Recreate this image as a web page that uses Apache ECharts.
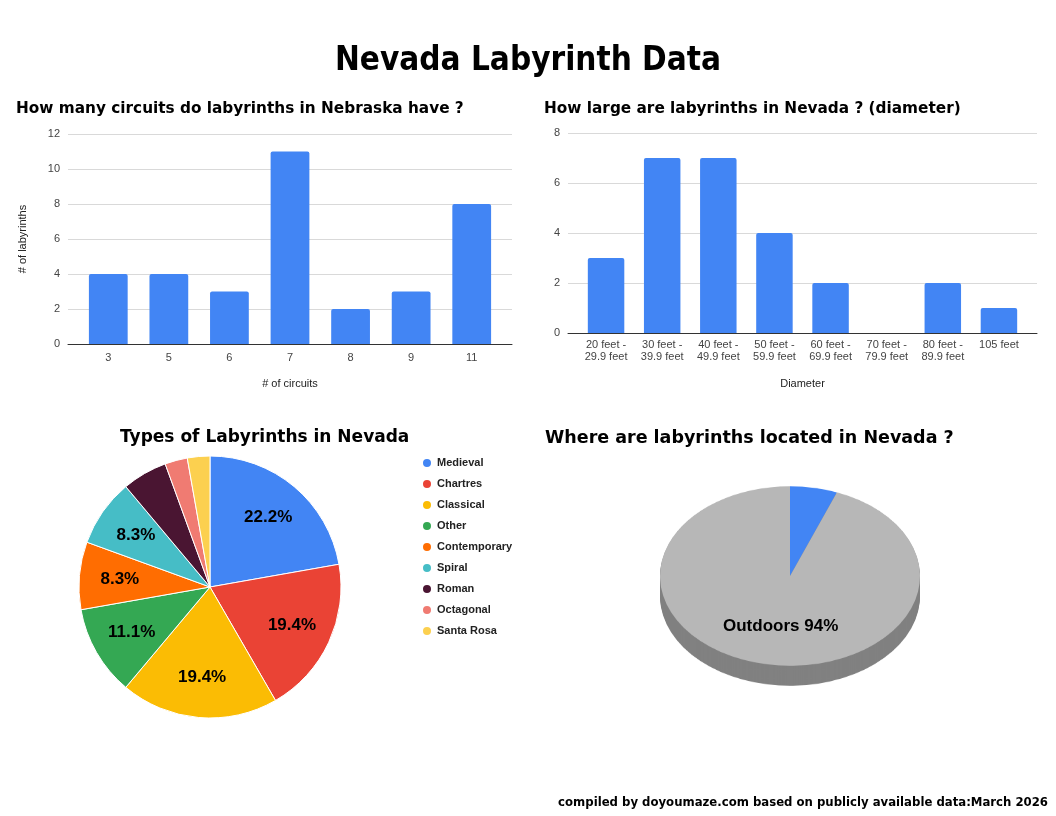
<!DOCTYPE html>
<html lang="en">
<head>
    <meta charset="UTF-8">
    <title>Nevada Labyrinth Data</title>
    <script src="https://cdn.jsdelivr.net/npm/echarts@6/dist/echarts.min.js"></script>
    <style>
        body { margin: 0; background: #fff; }
        #pie3d { position: absolute; left: 640px; top: 426px; width: 300px; height: 330px;
                 transform: scaleY(0.69); transform-origin: 150px 150px; }
        #chartmain { position: absolute; left: 0; top: 0; width: 1056px; height: 816px; }
    </style>
</head>
<body>
<div id="pie3d"></div>
<div id="chartmain"></div>
<script type="text/javascript">
    // circuits chart
    var circuitCats = ['3', '5', '6', '7', '8', '9', '11'];
    var circuitCounts = [4, 4, 3, 11, 2, 3, 8];
    var circuitMax = 12;

    // diameter chart
    var diameterCats = ['20 feet -\n29.9 feet', '30 feet -\n39.9 feet', '40 feet -\n49.9 feet',
        '50 feet -\n59.9 feet', '60 feet -\n69.9 feet', '70 feet -\n79.9 feet', '80 feet -\n89.9 feet', '105 feet'];
    var diameterCounts = [3, 7, 7, 4, 2, 0, 2, 1];
    var diameterMax = 8;

    // types pie
    var typeNames = ['Medieval', 'Chartres', 'Classical', 'Other', 'Contemporary', 'Spiral', 'Roman', 'Octagonal', 'Santa Rosa'];
    var typeCounts = [8, 7, 7, 4, 3, 3, 2, 1, 1];
    var typeColors = ['#4285F4', '#EA4335', '#FBBC04', '#34A853', '#FF6D01', '#46BDC6', '#4A1532', '#F07B72', '#FCD04F'];

    // location pie
    var placeNames = ['Indoors', 'Outdoors'];
    var placeCounts = [2, 32];
    var placeColors = ['#4285F4', '#B7B7B7'];

    var titleFont = 'DejaVu Sans';
    var axisFont = 'Liberation Sans';
    var impactFont = '"DejaVu Sans Condensed", sans-serif';

    function total(arr) { return arr.reduce(function (a, b) { return a + b; }, 0); }
    var typeTotal = total(typeCounts);
    var placeTotal = total(placeCounts);

    var typeData = typeNames.map(function (n, i) {
        return { name: n, value: typeCounts[i], itemStyle: { color: typeColors[i] } };
    });
    var placeData = placeNames.map(function (n, i) {
        return { name: n, value: placeCounts[i], itemStyle: { color: placeColors[i] } };
    });

    // 3D-looking pie: squashed with css, side made of stacked dark pies
    var pieChart = echarts.init(document.getElementById('pie3d'));
    var pieSeries = [];
    for (var k = 29; k > 0; k -= 2) {
        pieSeries.push({
            type: 'pie', center: [150, 150 + k], radius: 130, silent: true,
            label: { show: false }, labelLine: { show: false },
            itemStyle: { color: '#818181' },
            data: placeCounts.map(function (v, i) { return { name: placeNames[i], value: v }; })
        });
    }
    pieSeries.push({
        type: 'pie', center: [150, 150], radius: 130, silent: true,
        label: { show: false }, labelLine: { show: false },
        data: placeData
    });
    pieChart.setOption({ animation: false, series: pieSeries });

    var axisText = { color: '#444', fontFamily: axisFont, fontSize: 11 };
    var nameText = { color: '#222', fontFamily: axisFont, fontSize: 11 };

    var myChart = echarts.init(document.getElementById('chartmain'));
    myChart.setOption({
        animation: false,
        backgroundColor: 'transparent',
        title: [
            { text: 'Nevada Labyrinth Data', left: 'center', top: 40,
              textStyle: { fontFamily: impactFont, fontWeight: 'bold', fontSize: 33, color: '#000' } },
            { text: 'How many circuits do labyrinths in Nebraska have ?', left: 11, top: 97,
              textStyle: { fontFamily: titleFont, fontWeight: 'bold', fontSize: 15.3, color: '#000' } },
            { text: 'How large are labyrinths in Nevada ? (diameter)', left: 539, top: 97,
              textStyle: { fontFamily: titleFont, fontWeight: 'bold', fontSize: 15.3, color: '#000' } },
            { text: 'Types of Labyrinths in Nevada', left: 115, top: 424,
              textStyle: { fontFamily: titleFont, fontWeight: 'bold', fontSize: 17, color: '#000' } },
            { text: 'Where are labyrinths located in Nevada ?', left: 540, top: 424,
              textStyle: { fontFamily: titleFont, fontWeight: 'bold', fontSize: 17.5, color: '#000' } },
            { text: 'compiled by doyoumaze.com based on publicly available data:March 2026', right: 3, top: 791,
              textStyle: { fontFamily: impactFont, fontWeight: 'bold', fontSize: 13, color: '#000' } }
        ],
        legend: {
            data: typeNames, orient: 'vertical', left: 416, top: 452,
            icon: 'circle', itemWidth: 10, itemHeight: 10, itemGap: 9,
            textStyle: { fontFamily: axisFont, fontSize: 11, fontWeight: 'bold', color: '#222' }
        },
        grid: [
            { left: 68, right: 544, top: 134, bottom: 472 },   // circuits frame
            { left: 78, right: 554, top: 134, bottom: 472 },   // circuits bars
            { left: 568, right: 19, top: 133, bottom: 483 },   // diameter frame
            { left: 578, right: 29, top: 133, bottom: 483 }    // diameter bars
        ],
        xAxis: [
            { type: 'category', gridIndex: 0, data: circuitCats,
              axisLine: { lineStyle: { color: '#333' } }, axisTick: { show: false }, axisLabel: { show: false } },
            { type: 'category', gridIndex: 1, data: circuitCats,
              axisLine: { show: false }, axisTick: { show: false },
              axisLabel: Object.assign({ margin: 8 }, axisText),
              name: '# of circuits', nameLocation: 'middle', nameGap: 34, nameTextStyle: nameText },
            { type: 'category', gridIndex: 2, data: diameterCats,
              axisLine: { lineStyle: { color: '#333' } }, axisTick: { show: false }, axisLabel: { show: false } },
            { type: 'category', gridIndex: 3, data: diameterCats,
              axisLine: { show: false }, axisTick: { show: false },
              axisLabel: Object.assign({ lineHeight: 12, margin: 6, interval: 0 }, axisText),
              name: 'Diameter', nameLocation: 'middle', nameGap: 45, nameTextStyle: nameText }
        ],
        yAxis: [
            { type: 'value', gridIndex: 0, min: 0, max: circuitMax, interval: 2,
              axisLine: { show: false }, axisTick: { show: false },
              splitLine: { lineStyle: { color: '#d9d9d9' } },
              axisLabel: Object.assign({ margin: 8 }, axisText),
              name: '# of labyrinths', nameLocation: 'middle', nameGap: 40, nameRotate: 90, nameTextStyle: nameText },
            { type: 'value', gridIndex: 1, min: 0, max: circuitMax, interval: 2, show: false },
            { type: 'value', gridIndex: 2, min: 0, max: diameterMax, interval: 2,
              axisLine: { show: false }, axisTick: { show: false },
              splitLine: { lineStyle: { color: '#d9d9d9' } },
              axisLabel: Object.assign({ margin: 8 }, axisText) },
            { type: 'value', gridIndex: 3, min: 0, max: diameterMax, interval: 2, show: false }
        ],
        series: [
            { type: 'bar', xAxisIndex: 1, yAxisIndex: 1, data: circuitCounts, barWidth: '64%',
              itemStyle: { color: '#4285F4', borderRadius: [2, 2, 0, 0] } },
            { type: 'bar', xAxisIndex: 3, yAxisIndex: 3, data: diameterCounts, barWidth: '65%',
              itemStyle: { color: '#4285F4', borderRadius: [2, 2, 0, 0] } },
            { type: 'pie', center: [210, 587], radius: 131, startAngle: 90, silent: true,
              label: { show: false }, labelLine: { show: false },
              itemStyle: { borderColor: '#fff', borderWidth: 1 },
              data: typeData },
            // transparent ring only used to place the percent labels further out
            { type: 'pie', center: [210, 587], radius: [44, 131], startAngle: 90, silent: true,
              labelLine: { show: false },
              itemStyle: { color: 'rgba(0,0,0,0)' },
              label: { show: true, position: 'inside', color: '#000', fontFamily: axisFont,
                       fontWeight: 'bold', fontSize: 17,
                       formatter: function (p) {
                           var pct = p.value / typeTotal * 100;
                           return pct >= 8 ? pct.toFixed(1) + '%' : '';
                       } },
              data: typeNames.map(function (n, i) { return { name: n, value: typeCounts[i] }; }) },
            { type: 'pie', center: [790, 576], radius: [0, 96], silent: true,
              labelLine: { show: false },
              itemStyle: { color: 'rgba(0,0,0,0)' },
              label: { show: true, position: 'inside', color: '#000', fontFamily: axisFont,
                       fontWeight: 'bold', fontSize: 17,
                       formatter: function (p) {
                           var pct = p.value / placeTotal * 100;
                           return pct > 50 ? p.name + ' ' + pct.toFixed(0) + '%' : '';
                       } },
              data: placeNames.map(function (n, i) { return { name: n, value: placeCounts[i] }; }) }
        ]
    });
</script>
</body>
</html>
